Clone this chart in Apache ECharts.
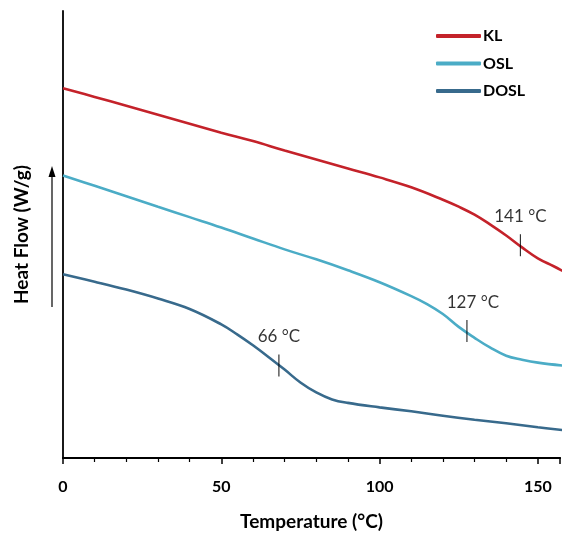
<!DOCTYPE html>
<html><head><meta charset="utf-8">
<script src="https://cdn.jsdelivr.net/npm/echarts@6/dist/echarts.min.js"></script>
<style>html,body{margin:0;padding:0;background:#fff;overflow:hidden}#c{width:563px;height:536px}</style>
</head><body><div id="c"></div>
<script>
// Temperature (°C) and heat flow (arbitrary units, curves offset)
const klT   = [0,10,20,30,40,50,60,70,80,90,100,110,120,125,130,135,140,145,150,155,158];
const klV   = [82.73,80.78,78.78,76.78,74.78,72.78,70.89,68.78,66.78,64.78,62.78,60.56,57.78,56.22,54.44,52.22,49.78,47.11,44.67,42.89,41.78];
const oslT  = [0,10,20,30,40,50,60,70,80,90,100,110,115,120,125,130,135,140,145,150,158];
const oslV  = [63.18,60.89,58.56,56.22,53.89,51.56,49.11,46.67,44.44,42.0,39.33,36.22,34.44,32.22,29.33,26.89,24.67,22.89,22.0,21.33,20.67];
const doslT = [0,10,20,30,40,50,55,60,65,70,75,80,85,90,100,110,120,130,140,150,158];
const doslV = [41.11,39.44,37.67,35.67,33.33,29.89,27.67,25.22,22.56,19.78,16.89,14.67,13.11,12.33,11.33,10.44,9.44,8.56,7.78,6.89,6.22];
const seriesNames = ['KL','OSL','DOSL'];
const seriesColors = ['#C4222A','#4BACC6','#386A8C'];
// Glass transition annotations
const annoT = [144.5, 127.6, 68.2];
const annoV = [47.6, 28.4, 20.7];
const annoLabels = ['141 °C','127 °C','66 °C'];

const zip = (a,b)=>a.map((x,i)=>[x,b[i]]);
const chart = echarts.init(document.getElementById('c'), null, {renderer:'canvas'});
const FONT = 'Lato';
const lineSeries = [[klT,klV],[oslT,oslV],[doslT,doslV]].map((d,i)=>({
  name: seriesNames[i], type:'line', data: zip(d[0],d[1]), smooth:0.4, symbol:'none',
  lineStyle:{color:seriesColors[i], width:2.6}, itemStyle:{color:seriesColors[i]}, z:2
}));
const labelOffsets = [[0,0],[6,0],[0,0]];
const annoSeries = {
  type:'scatter', silent:true, z:5,
  data: annoT.map((t,i)=>({value:[t,annoV[i]], label:{offset:labelOffsets[i]}})),
  symbol:'rect', symbolSize:[1.2,22],
  itemStyle:{color:'#000'},
  label:{show:true, position:'top', distance:9, color:'#000', fontFamily:FONT, fontSize:17,
    formatter:(p)=>annoLabels[p.dataIndex]}
};
chart.setOption({
  animation:false,
  backgroundColor:'#fff',
  grid:{left:63, right:0, top:11, bottom:75, containLabel:false},
  legend:{
    data:seriesNames, orient:'vertical', left:431, top:23, itemWidth:45, itemHeight:4, itemGap:11.5,
    icon:'roundRect',
    textStyle:{fontFamily:FONT, fontWeight:'bold', fontSize:16, color:'#000', padding:[0,0,0,-3]}
  },
  xAxis:[{
    type:'value', min:0, max:157, interval:50,
    axisLine:{show:true, onZero:false, lineStyle:{color:'#000', width:1.8}},
    axisTick:{show:true, length:6, lineStyle:{color:'#000', width:1.5}},
    minorTick:{show:true, splitNumber:5, length:4, lineStyle:{color:'#000', width:1.2}},
    splitLine:{show:false},
    axisLabel:{color:'#000', fontFamily:FONT, fontWeight:'bold', fontSize:16, margin:21,
      formatter:(v)=> (v % 50 === 0 ? String(v) : '')},
    name:'Temperature (°C)', nameLocation:'middle', nameGap:54,
    nameTextStyle:{color:'#000', fontFamily:FONT, fontWeight:'bold', fontSize:19}
  },{
    type:'value', position:'top', min:0, max:157,
    axisLine:{show:true, lineStyle:{color:'#000', width:1.8}},
    axisTick:{show:false}, axisLabel:{show:false}, splitLine:{show:false}
  }],
  yAxis:{
    type:'value', min:0, max:100,
    axisLine:{show:true, onZero:false, lineStyle:{color:'#000', width:1.8}},
    axisTick:{show:false}, axisLabel:{show:false}, splitLine:{show:false},
    name:'Heat Flow (W/g)', nameLocation:'middle', nameGap:32, nameRotate:90,
    nameTextStyle:{color:'#000', fontFamily:FONT, fontWeight:'bold', fontSize:19}
  },
  graphic:[
    {type:'line', shape:{x1:52, y1:307, x2:52, y2:174}, style:{stroke:'#000', lineWidth:1.2}},
    {type:'polygon', shape:{points:[[52,166],[48.5,177],[55.5,177]]}, style:{fill:'#000'}}
  ],
  series:[...lineSeries, annoSeries]
});
</script></body></html>
